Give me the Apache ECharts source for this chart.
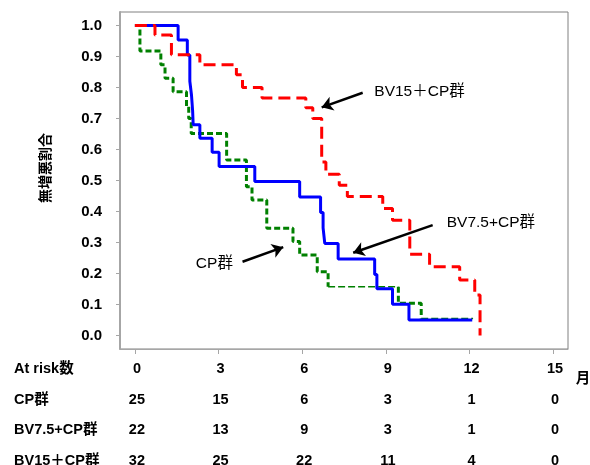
<!DOCTYPE html>
<html>
<head>
<meta charset="utf-8">
<script src="https://cdn.jsdelivr.net/npm/echarts@6/dist/echarts.min.js"></script>
<style>
html,body{margin:0;padding:0;background:#fff;}
#c{width:590px;height:465px;}
</style>
</head>
<body>
<div id="c"></div>
<script>
// ---- data ----
const months = [0, 3, 6, 9, 12, 15];
const yTicks = [0, 0.1, 0.2, 0.3, 0.4, 0.5, 0.6, 0.7, 0.8, 0.9, 1.0];
const riskRowLabels = ['At risk数', 'CP群', 'BV7.5+CP群', 'BV15＋CP群'];
const riskCP = [25, 15, 6, 3, 1, 0];
const riskBV75 = [22, 13, 9, 3, 1, 0];
const riskBV15 = [32, 25, 22, 11, 4, 0];

// Kaplan-Meier curves: event times (months) and survival after each event
const cpTimes = [0, 0.18, 0.93, 1.08, 1.37, 1.85, 1.93, 2.02, 3.29, 4.0, 4.2, 4.73, 5.67, 5.91, 6.54, 6.93, 9.45, 10.27, 12.13];
const cpSurv  = [1.0, 0.918, 0.873, 0.83, 0.786, 0.74, 0.70, 0.652, 0.566, 0.48, 0.437, 0.346, 0.303, 0.26, 0.206, 0.157, 0.104, 0.055, 0.055];
// CP group horizontal runs drawn with a thin line in the original (index of run start)
const cpThinRuns = [15, 17];

const bv75Times = [0, 1.55, 1.88, 1.97, 2.03, 2.07, 2.09, 2.33, 2.77, 3.02, 4.30, 5.91, 6.66, 6.75, 6.81, 7.29, 8.60, 8.68, 9.24, 9.83, 12.1];
const bv75Surv  = [1.0, 0.953, 0.905, 0.82, 0.775, 0.725, 0.68, 0.636, 0.591, 0.545, 0.497, 0.447, 0.397, 0.347, 0.297, 0.247, 0.197, 0.151, 0.101, 0.05, 0.05];

const bv15Times = [0, 0.72, 1.31, 2.33, 3.64, 3.86, 4.56, 6.13, 6.38, 6.70, 6.85, 7.33, 7.62, 8.89, 9.24, 9.86, 10.57, 11.65, 12.19, 12.38];
const bv15Surv  = [1.0, 0.969, 0.906, 0.873, 0.841, 0.80, 0.766, 0.735, 0.70, 0.56, 0.52, 0.485, 0.448, 0.41, 0.372, 0.262, 0.222, 0.179, 0.131, 0.0];

const annoLabels = ['BV15＋CP群', 'BV7.5+CP群', 'CP群'];

function zip(a, b) { return a.map((v, i) => [v, b[i]]); }

// Build the CP step path as separate thick / thin pieces (vertices from the data arrays)
function cpPieces() {
  const thick = [], thin = [];
  for (let i = 0; i < cpTimes.length - 1; i++) {
    const h0 = [cpTimes[i], cpSurv[i]], h1 = [cpTimes[i + 1], cpSurv[i]], v1 = [cpTimes[i + 1], cpSurv[i + 1]];
    if (cpThinRuns.includes(i)) {
      thin.push(h0, h1, null);
      thick.push(null, h1, v1);
    } else {
      thick.push(h0, h1, v1);
    }
  }
  return {thick, thin};
}
const cp = cpPieces();

const FONT = "'Liberation Sans', Arial, 'Noto Sans CJK JP', sans-serif";
const chart = echarts.init(document.getElementById('c'), null, {renderer: 'canvas'});

const option = {
  animation: false,
  backgroundColor: '#fff',
  grid: {left: 120, top: 12, right: 22, bottom: 116, show: true, borderColor: '#808080', borderWidth: 1},
  xAxis: {
    type: 'value', min: -0.535, max: 15.535,
    axisLine: {show: true, onZero: false, lineStyle: {color: '#a6a6a6', width: 1}},
    axisTick: {show: true, customValues: months, length: 5, lineStyle: {color: '#a6a6a6'}},
    axisLabel: {show: false},
    splitLine: {show: false}
  },
  yAxis: {
    type: 'value', min: -0.0435, max: 1.0435,
    axisLine: {show: true, onZero: false, lineStyle: {color: '#a6a6a6', width: 2}},
    axisTick: {show: true, customValues: yTicks, length: 4, lineStyle: {color: '#a6a6a6'}},
    axisLabel: {customValues: yTicks, formatter: v => v.toFixed(1), margin: 18,
      fontSize: 15, fontWeight: 'bold', color: '#000', fontFamily: FONT},
    splitLine: {show: false}
  },
  series: [
    {
      name: 'CP群', type: 'line', symbol: 'none', z: 2, connectNulls: false,
      data: cp.thick,
      lineStyle: {color: '#008000', width: 3, type: [6, 3]}
    },
    {
      name: 'CP群 thin', type: 'line', symbol: 'none', z: 2, connectNulls: false,
      data: cp.thin,
      lineStyle: {color: '#008000', width: 1.5, type: [7, 3]}
    },
    {
      name: 'BV7.5+CP群', type: 'line', step: 'end', symbol: 'none', z: 3,
      data: zip(bv75Times, bv75Surv),
      lineStyle: {color: '#0000ff', width: 3},
      markLine: {
        silent: true, symbol: ['none', 'arrow'], symbolSize: 11,
        label: {show: false},
        lineStyle: {color: '#000', width: 2.5, type: 'solid'},
        data: [
          [{coord: [8.17, 0.783]}, {coord: [6.70, 0.736]}],
          [{coord: [10.68, 0.356]}, {coord: [7.83, 0.267]}],
          [{coord: [3.86, 0.238]}, {coord: [5.32, 0.285]}]
        ]
      }
    },
    {
      name: 'BV15＋CP群', type: 'line', step: 'end', symbol: 'none', z: 4,
      data: zip(bv15Times, bv15Surv),
      lineStyle: {color: '#ff0000', width: 3, type: [12, 6]}
    }
  ]
};
chart.setOption(option);

// annotations and at-risk table, positioned through the axes
const px = v => chart.convertToPixel({xAxisIndex: 0}, v);
const py = v => chart.convertToPixel({yAxisIndex: 0}, v);
const annoPos = [[10.21, 0.787], [12.77, 0.363], [2.85, 0.231]];
const graphics = [];
annoLabels.forEach((t, i) => {
  graphics.push({type: 'text', x: px(annoPos[i][0]), y: py(annoPos[i][1]),
    style: {text: t, font: "15.5px " + FONT, fill: '#000', align: 'center', verticalAlign: 'middle'}});
});
graphics.push({type: 'text', x: 46.5, y: 168, rotation: Math.PI / 2,
  style: {text: '無増悪割合', font: "bold 14px " + FONT, fill: '#000', align: 'center', verticalAlign: 'middle'}});
const rowY = [369, 399.5, 430, 461];
const rowVals = [months, riskCP, riskBV75, riskBV15];
riskRowLabels.forEach((lab, r) => {
  graphics.push({type: 'text', x: 14, y: rowY[r],
    style: {text: lab, font: "bold 14.5px " + FONT, fill: '#000', align: 'left', verticalAlign: 'middle'}});
  rowVals[r].forEach((v, j) => {
    graphics.push({type: 'text', x: px(months[j]) + 2, y: rowY[r],
      style: {text: String(v), font: "bold 14.5px " + FONT, fill: '#000', align: 'center', verticalAlign: 'middle'}});
  });
});
graphics.push({type: 'text', x: 583, y: 379,
  style: {text: '月', font: "bold 14.5px " + FONT, fill: '#000', align: 'center', verticalAlign: 'middle'}});
chart.setOption({graphic: graphics});
</script>
</body>
</html>
